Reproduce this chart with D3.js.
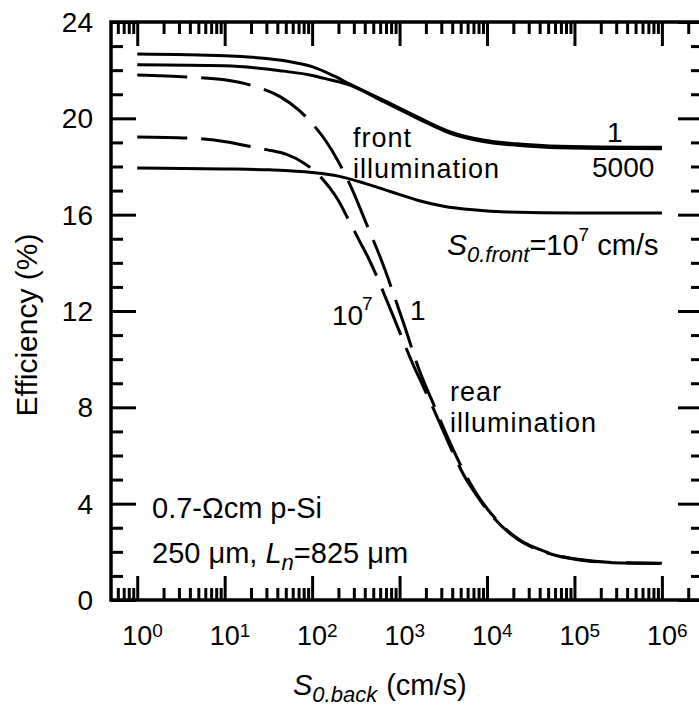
<!DOCTYPE html>
<html>
<head>
<meta charset="utf-8">
<script src="https://cdnjs.cloudflare.com/ajax/libs/d3/7.8.5/d3.min.js"></script>
<style>
  body { margin: 0; background: #fff; }
  svg { display: block; }
  text { font-family: "Liberation Sans", Arial, Helvetica, sans-serif; fill: #000; }
</style>
</head>
<body>
<svg id="chart"></svg>
<script>
// x axis: S0.back (cm/s), log scale; y axis: efficiency (%)
const xMajor = [1, 10, 100, 1000, 10000, 100000, 1000000];
const xExp = ["0", "1", "2", "3", "4", "5", "6"];
const yMajor = [0, 4, 8, 12, 16, 20, 24];

// front illumination, S0.front = 1
const front1S   = [1, 10, 30, 60, 100, 180, 270, 650, 1600, 3800, 9000, 22000, 52000, 200000, 1000000];
const front1Eff = [22.67, 22.6, 22.48, 22.33, 22.15, 21.75, 21.42, 20.76, 20.06, 19.44, 19.1, 18.94, 18.85, 18.81, 18.8];

// front illumination, S0.front = 5000
const front5000S   = [1, 10, 43, 100, 160, 250, 320, 650, 1600, 3800, 9000, 22000, 52000, 200000, 1000000];
const front5000Eff = [22.22, 22.18, 21.98, 21.78, 21.6, 21.42, 21.27, 20.7, 20.0, 19.38, 19.04, 18.88, 18.79, 18.75, 18.74];

// front illumination, S0.front = 1e7
const front1e7S   = [1, 10, 32, 100, 200, 400, 800, 1600, 3200, 6900, 17000, 100000, 1000000];
const front1e7Eff = [17.94, 17.9, 17.86, 17.75, 17.6, 17.3, 16.95, 16.6, 16.35, 16.2, 16.11, 16.07, 16.07];

// rear illumination, S0.front = 1
const rear1S   = [1, 3.7, 10, 21, 43, 70, 102, 141, 200, 295, 420, 600, 1100, 1700, 2500, 3600, 5500, 8300, 10000, 20000, 49000, 115000, 275000, 1000000];
const rear1Eff = [21.8, 21.72, 21.6, 21.35, 20.9, 20.35, 19.75, 19.1, 18.2, 16.95, 15.6, 14.24, 11.54, 9.5, 8.05, 6.7, 5.3, 4.2, 3.8, 2.68, 1.98, 1.68, 1.56, 1.53];

// rear illumination, S0.front = 1e7
const rear1e7S   = [1, 4, 10.7, 21, 31, 51, 80, 115, 160, 195, 260, 355, 440, 780, 1400, 1900, 2400, 3500, 5400, 8300, 10000, 20000, 49000, 115000, 275000, 1000000];
const rear1e7Eff = [19.23, 19.18, 19.02, 18.81, 18.69, 18.5, 18.15, 17.7, 17.1, 16.65, 15.8, 14.85, 14.2, 12.1, 9.85, 8.8, 8.0, 6.65, 5.2, 4.15, 3.75, 2.65, 1.95, 1.66, 1.55, 1.52];

const width = 699, height = 706;
const svg = d3.select("#chart").attr("width", width).attr("height", height);

const x = d3.scaleLog().domain([Math.pow(10, -0.3), Math.pow(10, 6.47)]).range([111, 703]);
const y = d3.scaleLinear().domain([0, 24]).range([600, 22]);

const [x0, x1] = x.range();
const [yb, yt] = y.range();

// minor ticks
const xMinor = x.ticks().filter(t => !xMajor.includes(t) && t > 0.51);
const yMinor = d3.range(1, 24).filter(v => v % 4 !== 0);

function tickAxis(axisFn, scale, values, size, transform) {
  const g = svg.append("g")
    .attr("transform", transform)
    .call(axisFn(scale).tickValues(values).tickSize(size).tickFormat(""));
  g.select(".domain").remove();
  g.selectAll(".tick line").attr("stroke", "#000").attr("stroke-width", 3);
  return g;
}

tickAxis(d3.axisBottom, x, xMajor, -24, `translate(0,${yb})`);
tickAxis(d3.axisBottom, x, xMinor, -12, `translate(0,${yb})`);
tickAxis(d3.axisTop, x, xMajor, -24, `translate(0,${yt})`);
tickAxis(d3.axisTop, x, xMinor, -12, `translate(0,${yt})`);
tickAxis(d3.axisLeft, y, yMajor, -25, `translate(${x0},0)`);
tickAxis(d3.axisLeft, y, yMinor, -12, `translate(${x0},0)`);
tickAxis(d3.axisRight, y, yMajor, -25, `translate(${x1},0)`);
tickAxis(d3.axisRight, y, yMinor, -12, `translate(${x1},0)`);

// frame
svg.append("rect")
  .attr("x", x0).attr("y", yt)
  .attr("width", x1 - x0).attr("height", yb - yt)
  .attr("fill", "none").attr("stroke", "#000").attr("stroke-width", 3.5);

// y tick labels
svg.selectAll(".ylab").data(yMajor).enter().append("text")
  .attr("class", "ylab")
  .attr("x", 93).attr("y", d => y(d) + 10)
  .attr("text-anchor", "end")
  .style("font-size", "28px")
  .text(d => d);

// x tick labels 10^n
const xl = svg.selectAll(".xlab").data(xMajor).enter().append("g").attr("class", "xlab");
xl.append("text")
  .attr("x", d => x(d)).attr("y", 645)
  .attr("text-anchor", "middle")
  .style("font-size", "27px")
  .text("10");
xl.append("text")
  .attr("x", d => x(d) + 15).attr("y", 637)
  .style("font-size", "19px")
  .text((d, i) => xExp[i]);

// axis titles
const xt = svg.append("text").attr("x", 293).attr("y", 695).style("font-size", "29px");
xt.append("tspan").style("font-style", "italic").text("S");
xt.append("tspan").style("font-style", "italic").style("font-size", "22px").attr("dy", 7).text("0.back");
xt.append("tspan").attr("dy", -7).attr("dx", 9).style("font-size", "29px").text("(cm/s)");

svg.append("text")
  .attr("transform", "translate(37,325) rotate(-90)")
  .attr("text-anchor", "middle")
  .style("font-size", "30px")
  .text("Efficiency (%)");

// curves
const line = d3.line().x(d => x(d[0])).y(d => y(d[1])).curve(d3.curveMonotoneX);
const zip = (a, b) => a.map((v, i) => [v, b[i]]);

const curves = [
  { s: front1S, e: front1Eff, dash: null },
  { s: front5000S, e: front5000Eff, dash: null },
  { s: front1e7S, e: front1e7Eff, dash: null },
  { s: rear1S, e: rear1Eff, dash: "50,14" },
  { s: rear1e7S, e: rear1e7Eff, dash: "50,14" }
];

svg.selectAll(".curve").data(curves).enter().append("path")
  .attr("class", "curve")
  .attr("d", d => line(zip(d.s, d.e)))
  .attr("fill", "none")
  .attr("stroke", "#000")
  .attr("stroke-width", 3)
  .attr("stroke-dasharray", d => d.dash);

// annotations
function label(xp, yp, txt, size) {
  return svg.append("text").attr("x", xp).attr("y", yp).style("font-size", size + "px").text(txt);
}
function twoLine(xp, yp, l1, l2, size, gap) {
  label(xp, yp, l1, size).style("letter-spacing", "1px");
  label(xp, yp + gap, l2, size).style("letter-spacing", "1px");
}

twoLine(353, 147, "front", "illumination", 27, 30.5);
label(607, 142, "1", 28);
label(592, 177, "5000", 28);

twoLine(450, 401, "rear", "illumination", 27, 30.5);

label(332, 325, "10", 28);
label(362, 310, "7", 19);
label(410, 320, "1", 28);

const sf = svg.append("text").attr("x", 447).attr("y", 255).style("font-size", "30px");
sf.append("tspan").style("font-style", "italic").text("S");
sf.append("tspan").style("font-style", "italic").style("font-size", "22px").attr("dy", 7).text("0.front");
sf.append("tspan").attr("dy", -7).style("font-size", "29px").text("=10");
sf.append("tspan").attr("dy", -14).style("font-size", "19px").text("7");
sf.append("tspan").attr("dy", 14).style("font-size", "29px").text(" cm/s");

label(152, 518, "0.7-\u03A9cm p-Si", 29);
const ln = svg.append("text").attr("x", 152).attr("y", 563).style("font-size", "29px");
ln.append("tspan").text("250 \u03BCm, ");
ln.append("tspan").style("font-style", "italic").text("L");
ln.append("tspan").style("font-style", "italic").style("font-size", "22px").attr("dy", 7).text("n");
ln.append("tspan").attr("dy", -7).text("=825 \u03BCm");
</script>
</body>
</html>
